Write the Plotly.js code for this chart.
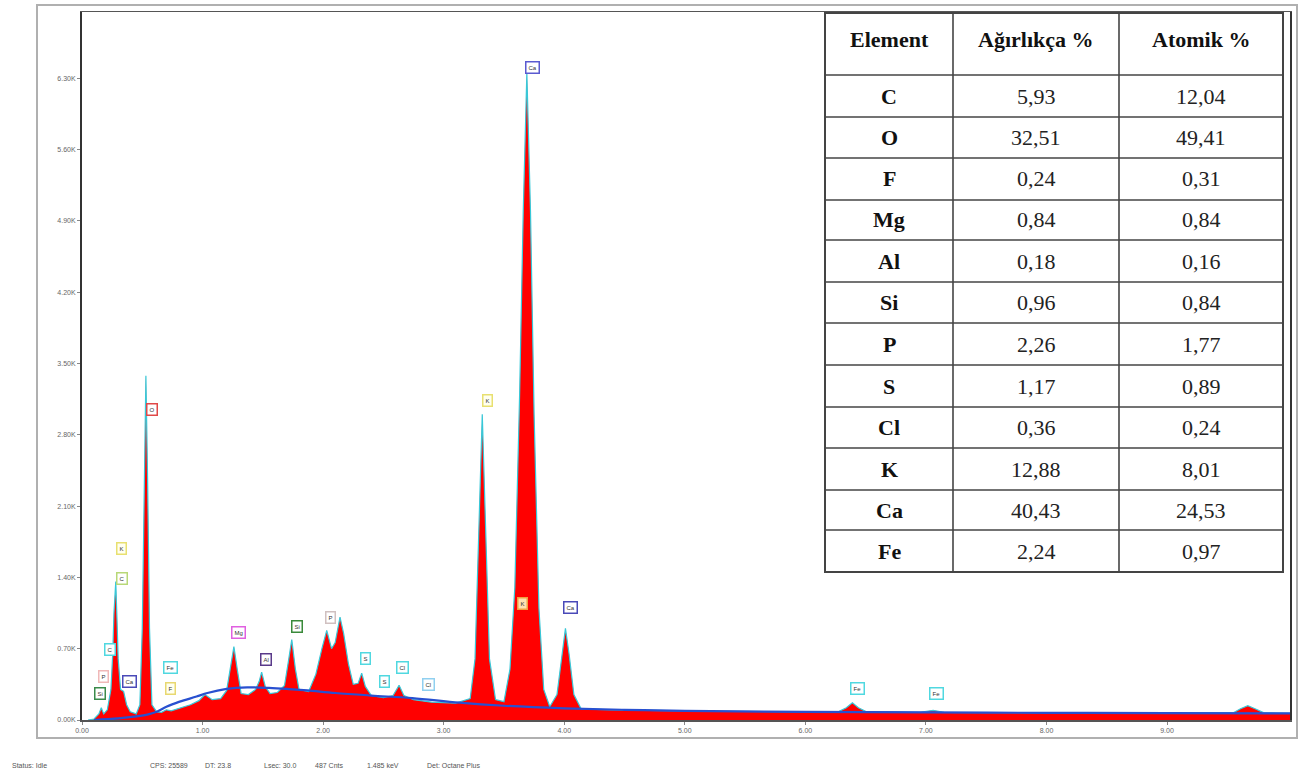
<!DOCTYPE html>
<html>
<head>
<meta charset="utf-8">
<script src="https://cdn.plot.ly/plotly-3.0.1.min.js"></script>
<style>html,body{margin:0;padding:0;background:#fff;}#chart{width:1303px;height:773px;}</style>
</head>
<body>
<div id="chart"></div>
<script>
// ---- Spectrum (energy keV, counts) ----
const energy = [0.05,0.10,0.14,0.16,0.18,0.21,0.24,0.255,0.265,0.28,0.29,0.30,0.32,0.345,0.37,0.40,0.45,0.48,0.50,0.515,0.53,0.545,0.56,0.58,0.62,0.66,0.70,0.74,0.80,0.90,0.97,1.02,1.08,1.15,1.20,1.23,1.26,1.29,1.32,1.38,1.44,1.47,1.49,1.52,1.56,1.62,1.68,1.71,1.74,1.77,1.80,1.88,1.94,1.99,2.03,2.07,2.10,2.14,2.17,2.21,2.25,2.29,2.32,2.35,2.40,2.50,2.58,2.63,2.67,2.75,2.90,3.10,3.22,3.26,3.29,3.32,3.35,3.38,3.43,3.50,3.55,3.59,3.63,3.66,3.69,3.72,3.75,3.79,3.83,3.88,3.94,3.98,4.01,4.04,4.08,4.14,4.40,5.00,6.00,6.28,6.34,6.39,6.44,6.50,6.95,7.06,7.15,8.00,9.00,9.55,9.61,9.67,9.73,9.80,10.02];
const counts = [0,10,60,120,60,100,300,650,1050,1360,1000,600,300,280,150,80,60,150,900,2300,3380,2300,900,150,80,75,100,90,110,150,190,250,200,210,290,500,720,480,260,250,300,380,470,330,260,270,340,560,790,500,300,280,450,700,880,700,760,1010,850,550,350,360,460,330,240,220,240,340,240,200,175,165,210,600,1800,3000,1800,600,200,180,500,1300,3200,5000,6350,5000,3000,1100,300,130,250,650,900,650,250,110,100,90,80,85,120,170,120,85,75,95,75,70,70,72,110,140,110,72,65];
// fitted background curve
const bgEnergy = [0.10,0.30,0.45,0.55,0.62,0.70,0.81,0.95,1.04,1.20,1.37,1.55,1.70,1.87,2.10,2.40,2.74,3.13,3.50,4.00,4.50,5.00,6.00,7.00,8.00,9.00,10.02];
const bgCounts = [0,15,35,55,80,130,180,230,265,305,320,315,305,290,265,240,215,170,140,115,100,90,80,75,70,68,65];

// ---- Peak labels ----
const labelText = ["Ca","O","K","K","C","C","P","Si","Ca","Fe","F","Mg","Al","Si","P","S","S","Cl","Cl","K","Ca","Fe","Fe"];
const labelE    = [3.74,0.58,3.36,0.33,0.33,0.23,0.18,0.15,0.39,0.73,0.73,1.30,1.53,1.78,2.06,2.35,2.51,2.66,2.87,3.65,4.05,6.43,7.09];
const labelC    = [6410,3050,3140,1680,1390,690,430,260,380,520,310,860,590,920,1010,600,380,520,350,1140,1100,310,260];
const labelColor= ["#5a5ad0","#e04848","#e8e070","#e8e070","#b8d878","#50d8e0","#f0b8b8","#3a8a4a","#4a4ab8","#50d8e0","#e8d870","#e060e0","#5a3a8a","#3a8a3a","#d0c0c0","#50d8e0","#50d8e0","#50d8e0","#90d0f0","#f0a040","#4a4ab8","#50d8e0","#50d8e0"];
const labelBg   = ["#ffffff","#ffffff","#fffff0","#fffff0","#ffffff","#ffffff","#ffffff","#ffffff","#ffffff","#ffffff","#fffff0","#ffffff","#ffffff","#ffffff","#ffffff","#ffffff","#ffffff","#ffffff","#ffffff","#ffe0b0","#ffffff","#ffffff","#ffffff"];

// ---- Axis ticks ----
const yTickVals = [0,700,1400,2100,2800,3500,4200,4900,5600,6300];
const yTickText = ["0.00K","0.70K","1.40K","2.10K","2.80K","3.50K","4.20K","4.90K","5.60K","6.30K"];
const xTickVals = [0,1,2,3,4,5,6,7,8,9];
const xTickText = ["0.00","1.00","2.00","3.00","4.00","5.00","6.00","7.00","8.00","9.00"];

// ---- Composition table ----
const tableHeader = ["Element","Ağırlıkça %","Atomik %"];
const elements = ["C","O","F","Mg","Al","Si","P","S","Cl","K","Ca","Fe"];
const weightPct = ["5,93","32,51","0,24","0,84","0,18","0,96","2,26","1,17","0,36","12,88","40,43","2,24"];
const atomicPct = ["12,04","49,41","0,31","0,84","0,16","0,84","1,77","0,89","0,24","8,01","24,53","0,97"];

// ---- Status bar ----
const statusItems = ["Status: Idle","CPS: 25589","DT: 23.8","Lsec: 30.0","487 Cnts","1.485 keV","Det: Octane Plus"];
const statusX = [10,148,203,262,313,365,425];

// pixel -> paper helpers
const L = 82, R = 1290, T = 12, B = 720;
const px = p => (p - L) / (R - L);
const py = p => (B - p) / (B - T);

const traces = [
  {x: energy, y: counts, type: 'scatter', mode: 'lines', fill: 'tozeroy',
   fillcolor: '#ff0000', line: {color: '#38c8d8', width: 1.2}, hoverinfo: 'x+y'},
  {x: bgEnergy, y: bgCounts, type: 'scatter', mode: 'lines',
   line: {color: '#2850d0', width: 2.2, shape: 'spline'}, hoverinfo: 'x+y'}
];

const annotations = [];
const shapes = [];

labelText.forEach((t, i) => {
  annotations.push({x: labelE[i], y: labelC[i], xref: 'x', yref: 'y', xanchor: 'center', yanchor: 'middle',
    text: t, showarrow: false,
    font: {family: 'Arial', size: 6, color: '#333'}, bgcolor: labelBg[i],
    bordercolor: labelColor[i], borderwidth: 1.5, borderpad: 2});
});

// outer frame
shapes.push({type: 'rect', xref: 'paper', yref: 'paper', x0: px(37), x1: px(1297), y0: py(738), y1: py(5),
  line: {color: '#b0b0b0', width: 2}});

// table
const colX = [825, 953, 1119, 1283];
const rowY = [13, 75, 117, 158, 200, 240, 282, 323, 365, 407, 448, 490, 530, 572];
shapes.push({type: 'rect', xref: 'paper', yref: 'paper', x0: px(colX[0]), x1: px(colX[3]),
  y0: py(rowY[rowY.length - 1]), y1: py(rowY[0]), fillcolor: '#ffffff', line: {color: '#444', width: 2}, layer: 'above'});
rowY.slice(1, -1).forEach(r => shapes.push({type: 'line', xref: 'paper', yref: 'paper',
  x0: px(colX[0]), x1: px(colX[3]), y0: py(r), y1: py(r), line: {color: '#444', width: 1.6}, layer: 'above'}));
colX.slice(1, -1).forEach(c => shapes.push({type: 'line', xref: 'paper', yref: 'paper',
  x0: px(c), x1: px(c), y0: py(rowY[rowY.length - 1]), y1: py(rowY[0]), line: {color: '#444', width: 1.6}, layer: 'above'}));

const colCenter = [0, 1, 2].map(k => px((colX[k] + colX[k + 1]) / 2));
const cellFont = c => ({family: 'Liberation Serif', size: 22, color: c});
tableHeader.forEach((h, k) => annotations.push({x: colCenter[k], y: py(39), xref: 'paper', yref: 'paper',
  xanchor: 'center', yanchor: 'middle', text: '<b>' + h + '</b>', showarrow: false, font: cellFont('#111')}));
elements.forEach((el, i) => {
  const yc = py((rowY[i + 1] + rowY[i + 2]) / 2);
  [['<b>' + el + '</b>', '#111'], [weightPct[i], '#222'], [atomicPct[i], '#222']].forEach((c, k) =>
    annotations.push({x: colCenter[k], y: yc, xref: 'paper', yref: 'paper', xanchor: 'center', yanchor: 'middle',
      text: c[0], showarrow: false, font: cellFont(c[1])}));
});

statusItems.forEach((s, i) => annotations.push({x: px(statusX[i]), y: py(765), xref: 'paper', yref: 'paper',
  xanchor: 'left', yanchor: 'middle', text: s, showarrow: false, font: {family: 'Arial', size: 7, color: '#555'}}));

const layout = {
  width: 1303, height: 773,
  margin: {l: L, r: 1303 - R, t: T, b: 773 - B},
  paper_bgcolor: '#ffffff', plot_bgcolor: '#ffffff',
  showlegend: false,
  xaxis: {range: [0, 10.02], tickvals: xTickVals, ticktext: xTickText, showgrid: false, zeroline: false,
    showline: true, mirror: true, linecolor: '#555', linewidth: 1.5, ticks: 'outside', ticklen: 3, tickcolor: '#888',
    tickfont: {family: 'Arial', size: 7, color: '#666'}},
  yaxis: {range: [0, 6950], tickvals: yTickVals, ticktext: yTickText, showgrid: false, zeroline: false,
    showline: true, mirror: true, linecolor: '#333', linewidth: 2, ticks: 'outside', ticklen: 3, tickcolor: '#888',
    tickfont: {family: 'Arial', size: 7, color: '#666'}},
  shapes: shapes,
  annotations: annotations
};

Plotly.newPlot('chart', traces, layout, {staticPlot: true});
</script>
</body>
</html>
